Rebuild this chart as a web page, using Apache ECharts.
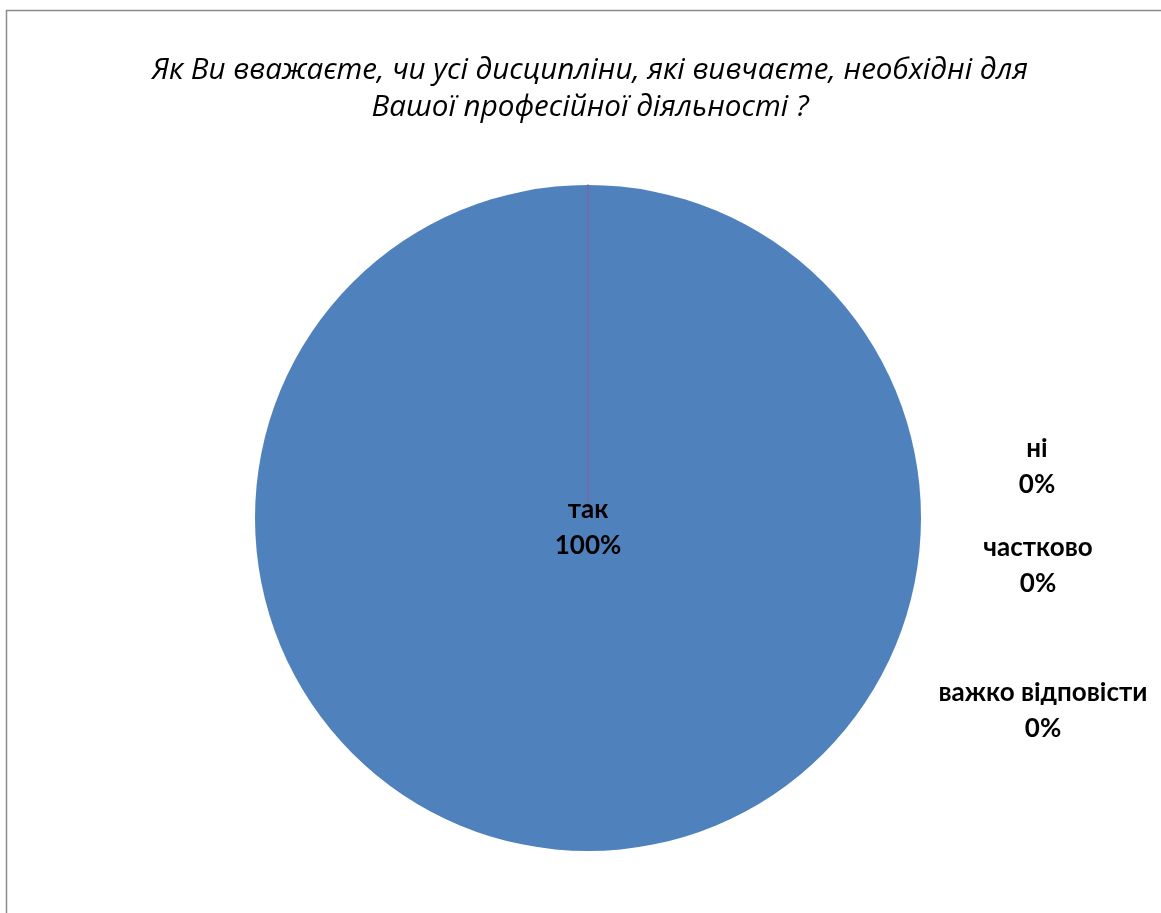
<!DOCTYPE html>
<html>
<head>
<meta charset="utf-8">
<script src="https://cdn.jsdelivr.net/npm/echarts@6/dist/echarts.min.js"></script>
<style>
html,body{margin:0;padding:0;background:#fff;}
#chart{width:1161px;height:913px;}
</style>
</head>
<body>
<div id="chart"></div>
<script>
var titleText = 'Як Ви вважаєте, чи усі дисципліни, які вивчаєте, необхідні для\nВашої професійної діяльності ?';
var categories = ['так', 'ні', 'частково', 'важко відповісти'];
var values = [100, 0, 0, 0];
var colors = ['#4F81BD', '#C0504D', '#9BBB59', '#8064A2'];

// label anchor positions (layout only)
var labelPos = [[588, 528], [1037, 467], [1038, 566], [1043, 711]];

var chart = echarts.init(document.getElementById('chart'));
var data = categories.map(function (c, i) {
  return {
    name: c,
    value: values[i],
    itemStyle: {
      color: colors[i],
      borderColor: i === categories.length - 1 ? colors[i] : 'transparent',
      borderWidth: i === categories.length - 1 ? 1.5 : 0
    }
  };
});

chart.setOption({
  backgroundColor: '#fff',
  animation: false,
  title: {
    text: titleText,
    left: 585,
    top: 47,
    textAlign: 'center',
    textStyle: {
      fontFamily: 'Open Sans',
      fontStyle: 'italic',
      fontWeight: 'normal',
      fontSize: 29.6,
      lineHeight: 37,
      color: '#000'
    }
  },
  graphic: [{
    type: 'rect',
    shape: { x: 6.5, y: 10.5, width: 1300, height: 1100 },
    style: { fill: 'none', stroke: '#8c8c8c', lineWidth: 1.5 },
    silent: true
  }],
  series: [{
    type: 'pie',
    center: [588, 518],
    radius: 333,
    startAngle: 90,
    clockwise: true,
    minShowLabelAngle: 0,
    avoidLabelOverlap: false,
    data: data,
    label: {
      show: true,
      position: 'outside',
      formatter: function (p) { return p.name + '\n' + Math.round(p.percent) + '%'; },
      fontFamily: 'Lato',
      fontWeight: 'bold',
      fontSize: 26,
      lineHeight: 36,
      color: '#000',
      align: 'center'
    },
    labelLine: { show: false },
    labelLayout: function (params) {
      var p = labelPos[params.dataIndex];
      return { x: p[0], y: p[1], align: 'center', verticalAlign: 'middle', hideOverlap: false };
    },
    emphasis: { disabled: true }
  }]
});
</script>
</body>
</html>
